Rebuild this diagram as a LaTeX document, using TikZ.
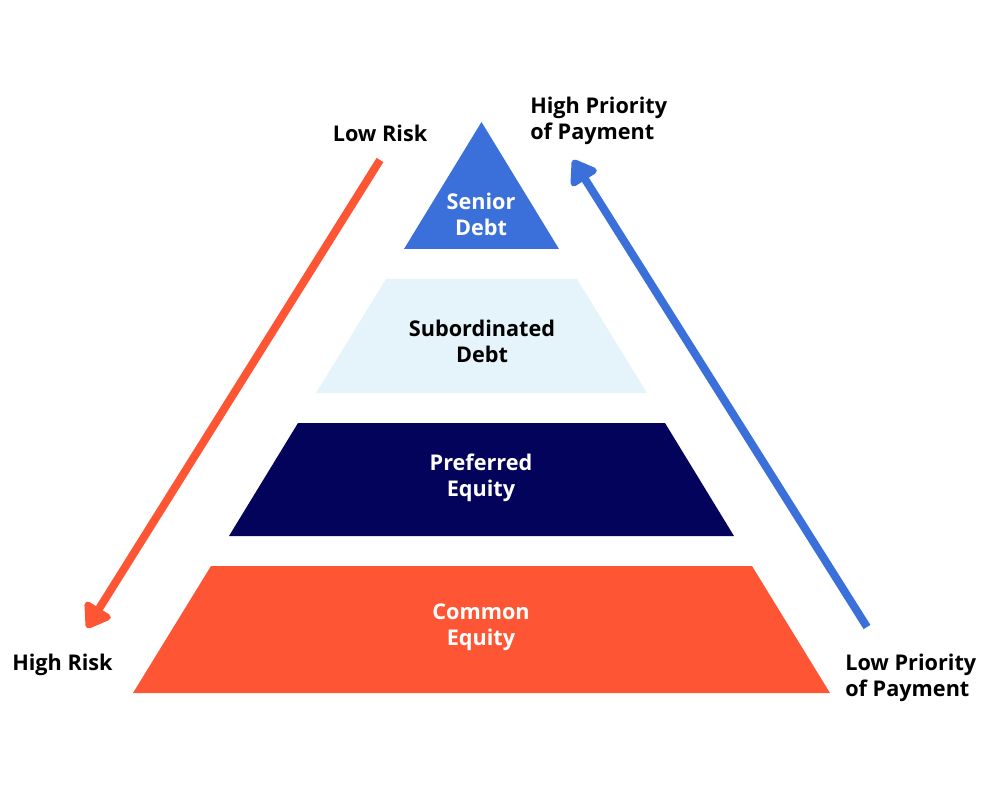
\documentclass[tikz,border=0pt]{standalone}
\usepackage{fontspec}
\setmainfont{Open Sans}
\usetikzlibrary{arrows.meta}
\definecolor{seniorblue}{HTML}{3B6FD9}
\definecolor{subblue}{HTML}{E5F4FB}
\definecolor{prefnavy}{HTML}{03035B}
\definecolor{commonred}{HTML}{FE5634}

\begin{document}
\begin{tikzpicture}[x=0.025cm, y=-0.025cm,
  lbl/.style={draw=none, inner sep=0pt, align=center, font=\bfseries\fontsize{15.4}{18.5}\selectfont},
  sidelbl/.style={lbl, align=left, anchor=west},
  riskarrow/.style={line width=0.2cm, -{Triangle[length=0.65cm, width=0.85cm, round]}}]
\useasboundingbox (0,0) rectangle (1000,800);
%%%%%%%%%%%%%%%%%%%
\fill[seniorblue] (481.5,122) -- (559,249) -- (404,249) -- cycle;
\fill[subblue] (386,279) -- (577,279) -- (647,393) -- (316,393) -- cycle;
\fill[prefnavy] (298,423) -- (665,423) -- (734,536) -- (229,536) -- cycle;
\fill[commonred] (211,566) -- (752,566) -- (830,693) -- (133,693) -- cycle;

%%%%%%%%%%%%%%%%%%%%%
\node[lbl, white] (senior) at (481,214) {Senior\\Debt};
\node[lbl] (subord) at (482,341) {Subordinated\\Debt};
\node[lbl, white] (preferred) at (481,478) {Preferred\\Equity};
\node[lbl, white] (common) at (481,627) {Common\\Equity};

\node[lbl] (lowrisk) at (380,133) {Low Risk};
\node[sidelbl] (highrisk) at (12,665) {High Risk};
\node[sidelbl] (highprio) at (530,121) {High Priority\\of Payment};
\node[sidelbl] (lowprio) at (845,678) {Low Priority\\of Payment};

%%%%%%%%%%%%%%%%%%%
\coordinate (riskstart) at (380,160);
\coordinate (riskend) at (87,628);
\coordinate (priostart) at (867,627);
\coordinate (prioend) at (573,160);
\draw[riskarrow, commonred] (riskstart) -- (riskend);
\draw[riskarrow, seniorblue] (priostart) -- (prioend);
\end{tikzpicture}
\end{document}
